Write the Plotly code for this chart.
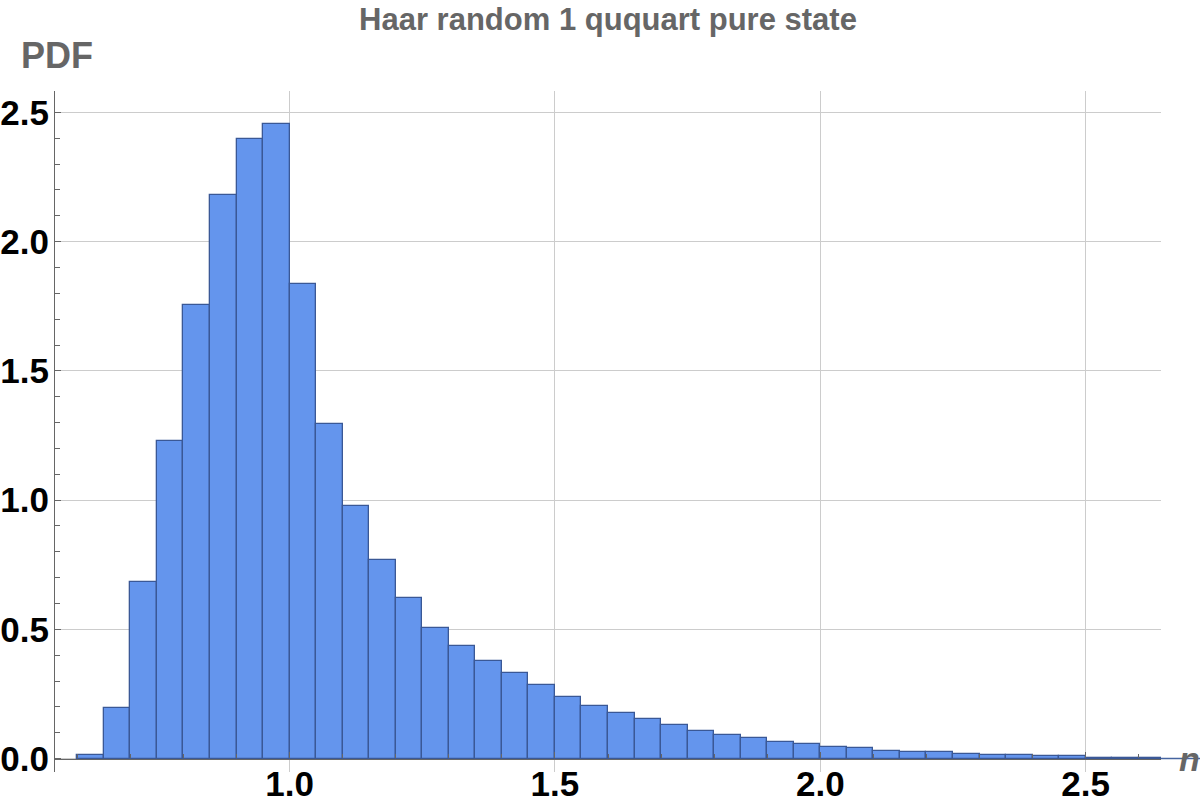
import plotly.graph_objects as go

# Histogram bins (left edges) and PDF heights
bin_left = [0.60, 0.65, 0.70, 0.75, 0.80, 0.85, 0.90, 0.95, 1.00, 1.05,
            1.10, 1.15, 1.20, 1.25, 1.30, 1.35, 1.40, 1.45, 1.50, 1.55,
            1.60, 1.65, 1.70, 1.75, 1.80, 1.85, 1.90, 1.95, 2.00, 2.05,
            2.10, 2.15, 2.20, 2.25, 2.30, 2.35, 2.40, 2.45, 2.50, 2.55,
            2.60]
bin_width = 0.05
pdf = [0.012, 0.194, 0.685, 1.227, 1.754, 2.180, 2.396, 2.454, 1.836, 1.293,
       0.979, 0.767, 0.623, 0.507, 0.437, 0.376, 0.333, 0.284, 0.240, 0.205,
       0.178, 0.155, 0.128, 0.108, 0.093, 0.081, 0.066, 0.058, 0.046, 0.039,
       0.031, 0.027, 0.024, 0.017, 0.012, 0.012, 0.008, 0.008, 0.004, 0.003,
       0.001]

x_ticks = [1.0, 1.5, 2.0, 2.5]
y_ticks = [0.0, 0.5, 1.0, 1.5, 2.0, 2.5]

title_text = "Haar random 1 ququart pure state"
y_label = "PDF"
x_label = "n"

x_range = [0.558, 2.642]
y_range = [-0.052, 2.583]

centers = [b + bin_width / 2 for b in bin_left]

fig = go.Figure()
fig.add_trace(go.Bar(
    x=centers, y=pdf, width=[bin_width] * len(pdf),
    marker=dict(color="rgb(100,149,237)",
                line=dict(color="rgb(58,88,150)", width=1.3)),
    showlegend=False, hoverinfo="x+y",
))

FONT = "Liberation Sans, Arial, sans-serif"
tick_font = dict(family=FONT, size=35, color="black")
gray = "#666666"
grid = "#cccccc"

zero_pos = (0 - y_range[0]) / (y_range[1] - y_range[0])

fig.update_layout(
    width=1200, height=810,
    margin=dict(l=55, r=39, t=91, b=38),
    paper_bgcolor="white", plot_bgcolor="white",
    bargap=0,
    title=dict(text="<b>" + title_text + "</b>", x=0.5, xref="paper",
               y=0.9765, yref="container", xanchor="center", yanchor="middle",
               font=dict(family=FONT, size=31, color=gray)),
    xaxis=dict(
        range=x_range, tickvals=x_ticks, ticktext=[f"<b>{v:.1f}</b>" for v in x_ticks],
        showgrid=True, gridcolor=grid, gridwidth=1,
        zeroline=False, showline=True, linecolor=gray, linewidth=1.2,
        anchor="free", position=zero_pos,
        ticks="inside", ticklen=6, tickcolor=gray, tickwidth=1,
        minor=dict(dtick=0.1, tick0=0, ticks="inside", ticklen=4, tickcolor=gray, showgrid=False),
        tickfont=tick_font, automargin=False, ticklabelstandoff=-6,
    ),
    yaxis=dict(
        range=y_range, tickvals=y_ticks, ticktext=[f"<b>{v:.1f}</b>" for v in y_ticks],
        showgrid=True, gridcolor=grid, gridwidth=1,
        zeroline=False, showline=True, linecolor=gray, linewidth=1.2,
        ticks="inside", ticklen=6, tickcolor=gray, tickwidth=1,
        minor=dict(dtick=0.1, tick0=0, ticks="inside", ticklen=5, tickcolor=gray, showgrid=False),
        tickfont=tick_font, automargin=False, ticklabelstandoff=-2,
    ),
)

# x-axis line continuing past the frame toward the axis label
fig.add_shape(type="line", xref="paper", yref="y", x0=1.0, x1=1.04, y0=0, y1=0,
              line=dict(color="rgb(70,100,160)", width=1.5), layer="above")

fig.add_annotation(text="<b>" + y_label + "</b>", xref="paper", yref="paper",
                   x=-0.0325, y=1.0514, xanchor="left", yanchor="middle", showarrow=False,
                   font=dict(family=FONT, size=36, color=gray))
fig.add_annotation(text="<b><i>" + x_label + "</i></b>", xref="paper", yref="y",
                   x=1.0145, y=0, xanchor="left", yanchor="middle", showarrow=False,
                   font=dict(family=FONT, size=34, color=gray))

# remove the default page margin so the 1200x810 figure fills the window exactly
fig.write_html("out.html",
               config={"displayModeBar": False},
               post_script="document.body.style.margin='0';document.body.style.overflow='hidden';")
